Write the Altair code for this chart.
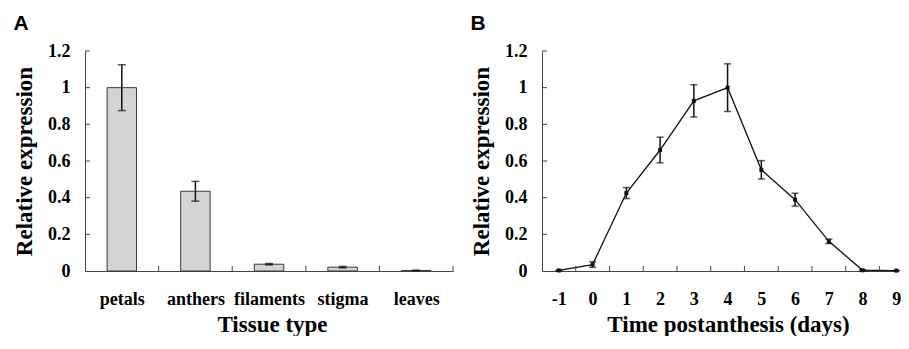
import json
import altair as alt
import pandas as pd

# ---------------- data ----------------
tissues = ["petals", "anthers", "filaments", "stigma", "leaves"]
tissue_expr = [1.0, 0.435, 0.037, 0.021, 0.003]
tissue_err = [0.125, 0.054, 0.004, 0.004, 0.001]

days = [-1, 0, 1, 2, 3, 4, 5, 6, 7, 8, 9]
time_expr = [0.003, 0.035, 0.425, 0.66, 0.928, 1.0, 0.552, 0.389, 0.162, 0.004, 0.002]
time_err = [0.0, 0.015, 0.03, 0.07, 0.088, 0.13, 0.05, 0.035, 0.012, 0.003, 0.0]

y_ticks = [0, 0.2, 0.4, 0.6, 0.8, 1.0, 1.2]
a_band_edges = [1, 2, 3, 4, 5]
b_minor_ticks = [-0.5, 0.5, 1.5, 2.5, 3.5, 4.5, 5.5, 6.5, 7.5, 8.5]

# ---------------- style ----------------
SERIF = "Liberation Serif"
AX = "#444444"
INK = "#111111"
H = 220
WA = 368
WB = 356

dfA = pd.DataFrame({"cat": tissues, "v": tissue_expr, "e": tissue_err})
dfA["idx"] = range(len(tissues))
dfB = pd.DataFrame({"day": days, "v": time_expr, "e": time_err})
dfY = pd.DataFrame({"t": y_ticks[1:]})
dfXA = pd.DataFrame({"t": a_band_edges})
dfXB = pd.DataFrame({"t": b_minor_ticks})

yscale = alt.Scale(domain=[0, 1.2], nice=False, zero=True)


def y_axis():
    return alt.Axis(values=y_ticks, tickCount=30, format="~g", ticks=False, grid=False,
                    domain=True, domainColor=AX, labelPadding=15, labelOverlap=False,
                    title="Relative expression", titlePadding=11)


label_expr = json.dumps(tissues) + "[floor(datum.value)]"
xscaleA = alt.Scale(domain=[0, 5], nice=False, zero=False)

baseA = alt.Chart(dfA).transform_calculate(
    pos="datum.idx + 0.5", lo="datum.idx + 0.3", hi="datum.idx + 0.7",
    elo="datum.v - datum.e", ehi="datum.v + datum.e", y0="0")

bars = baseA.mark_rect(fill="#d4d4d4", stroke="#3a3a3a", strokeWidth=1).encode(
    x=alt.X("lo:Q", scale=xscaleA,
            axis=alt.Axis(values=[0.5, 1.5, 2.5, 3.5, 4.5], tickCount=30,
                          labelExpr=label_expr,
                          ticks=False, grid=False, domain=True, domainColor=AX,
                          labelPadding=19, labelOverlap=False,
                          title="Tissue type", titlePadding=5, titleX=187)),
    x2="hi:Q",
    y=alt.Y("y0:Q", scale=yscale, axis=y_axis()),
    y2="v:Q",
)
errA = baseA.mark_rule(color=INK, strokeWidth=1.5).encode(
    x="pos:Q", y="elo:Q", y2="ehi:Q")
capA1 = baseA.mark_tick(orient="horizontal", size=8, thickness=1.5, color=INK).encode(
    x="pos:Q", y="elo:Q")
capA2 = baseA.mark_tick(orient="horizontal", size=8, thickness=1.5, color=INK).encode(
    x="pos:Q", y="ehi:Q")
ytickA = alt.Chart(dfY).mark_rule(color=AX, strokeWidth=1).encode(
    y="t:Q", x=alt.value(0), x2=alt.value(5))
xtickA = alt.Chart(dfXA).mark_rule(color=AX, strokeWidth=1).encode(
    x="t:Q", y=alt.value(H), y2=alt.value(H - 5))

panelA = alt.layer(bars, errA, capA1, capA2, ytickA, xtickA).properties(
    width=WA, height=H,
    title=alt.TitleParams("A", anchor="start", frame="bounds", font="Liberation Sans",
                          fontSize=21, fontWeight="bold", offset=8, color="#000000"))

xscaleB = alt.Scale(domain=[-1.5, 9.05], nice=False, zero=False)
baseB = alt.Chart(dfB).transform_calculate(
    elo="datum.v - datum.e", ehi="datum.v + datum.e")

line = baseB.mark_line(color=INK, strokeWidth=1.3).encode(
    x=alt.X("day:Q", scale=xscaleB,
            axis=alt.Axis(values=days, tickCount=30, labelExpr="'' + datum.value",
                          ticks=False, grid=False, domain=True, domainColor=AX,
                          labelPadding=19, labelOverlap=False,
                          title="Time postanthesis (days)", titlePadding=5, titleX=186)),
    y=alt.Y("v:Q", scale=yscale, axis=y_axis()),
)
pts = baseB.mark_point(shape="square", filled=True, size=16, color=INK, opacity=1).encode(
    x="day:Q", y="v:Q")
errB = baseB.mark_rule(color=INK, strokeWidth=1.5).encode(
    x="day:Q", y="elo:Q", y2="ehi:Q")
capB1 = baseB.mark_tick(orient="horizontal", size=7, thickness=1.5, color=INK).encode(
    x="day:Q", y="elo:Q")
capB2 = baseB.mark_tick(orient="horizontal", size=7, thickness=1.5, color=INK).encode(
    x="day:Q", y="ehi:Q")
ytickB = alt.Chart(dfY).mark_rule(color=AX, strokeWidth=1).encode(
    y="t:Q", x=alt.value(0), x2=alt.value(5))
xtickB = alt.Chart(dfXB).mark_rule(color=AX, strokeWidth=1).encode(
    x="t:Q", y=alt.value(H), y2=alt.value(H - 5))

panelB = alt.layer(line, errB, capB1, capB2, pts, ytickB, xtickB).properties(
    width=WB, height=H,
    title=alt.TitleParams("B", anchor="start", frame="bounds", font="Liberation Sans",
                          fontSize=21, fontWeight="bold", offset=8, color="#000000"))

chart = alt.hconcat(panelA, panelB, spacing=16).properties(
    padding={"left": 5, "top": 5, "right": 0, "bottom": 0}
).configure_view(stroke=None).configure_axis(
    labelFont=SERIF, labelFontSize=18, labelFontWeight="bold", labelColor="#000000",
    titleFont=SERIF, titleFontSize=23, titleFontWeight="bold", titleColor="#000000",
    labelOverlap=False, labelBound=False,
)

chart.save("out.html", embed_options={"renderer": "svg", "actions": False})
